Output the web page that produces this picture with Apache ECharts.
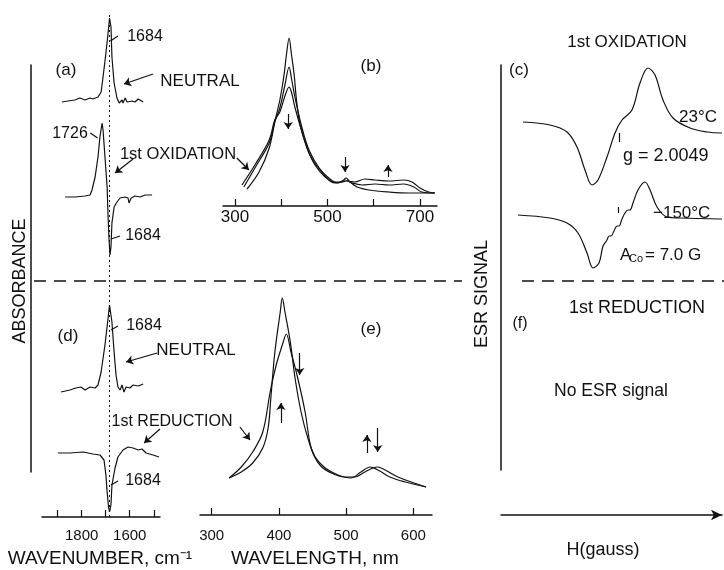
<!DOCTYPE html>
<html>
<head>
<meta charset="utf-8">
<title>IR / UV-vis / ESR of the 1st oxidation and reduction</title>
<script src="https://cdn.jsdelivr.net/npm/echarts@6/dist/echarts.min.js"></script>
<style>
  html, body { margin: 0; padding: 0; background: #fff; }
  #main { width: 724px; height: 570px; }
</style>
</head>
<body>
<div id="main"></div>
<script>
// (a)/(d) IR difference spectra, wavenumber (cm-1) vs absorbance (arb. units, traces offset)
var irTicks = [1900, 1800, 1700, 1600, 1500];
var irTickLabels = [1800, 1600];
var aNeutralWn = [1882, 1857, 1828, 1807, 1786, 1765, 1753, 1732, 1719, 1711, 1699, 1690, 1684, 1678, 1674, 1665, 1653, 1644, 1632, 1628, 1619, 1611, 1603, 1590, 1578, 1565, 1544];
var aNeutralAbs = [415, 416, 417, 419, 417, 419, 418, 420, 425, 440, 464, 484, 499, 490, 460, 434, 419, 414, 417, 414, 419, 415, 413, 416, 415, 418, 415];
var aOxWn = [1869, 1828, 1786, 1765, 1757, 1744, 1732, 1724, 1715, 1711, 1703, 1694, 1690, 1686, 1682, 1678, 1674, 1665, 1653, 1640, 1619, 1607, 1603, 1594, 1578, 1557, 1536, 1507];
var aOxAbs = [320, 320, 321, 322, 327, 340, 360, 380, 394, 387, 360, 330, 300, 277, 262, 270, 294, 310, 315, 319, 320, 319, 314, 319, 321, 320, 322, 322];
var dNeutralWn = [1886, 1849, 1824, 1803, 1786, 1765, 1744, 1732, 1719, 1703, 1690, 1684, 1674, 1665, 1657, 1649, 1640, 1632, 1624, 1615, 1599, 1586, 1565, 1544];
var dNeutralAbs = [125, 127, 129, 130, 127, 130, 129, 132, 145, 172, 199, 212, 195, 165, 142, 130, 127, 132, 125, 130, 129, 132, 131, 133];
var dRedWn = [1899, 1849, 1794, 1753, 1724, 1707, 1699, 1694, 1688, 1684, 1678, 1674, 1661, 1649, 1628, 1607, 1586, 1565, 1549, 1532, 1503, 1478];
var dRedAbs = [64, 64, 65, 63, 62, 57, 42, 25, 10, 5, 12, 32, 49, 60, 67, 70, 69, 67, 68, 64, 62, 60];

// (b) UV-vis, 1st oxidation (nm vs absorbance)
var bTicks = [300, 400, 500, 600, 700];
var bTickLabels = [300, 500, 700];
var bNeutralNm = [326, 352, 374, 386, 397, 406, 412, 417, 422, 428, 433, 441, 456, 473, 495, 516, 531, 540, 549, 564, 590, 633, 676, 719, 732];
var bNeutralAbs = [17, 34, 58, 84, 106, 131, 154, 168, 152, 131, 106, 81, 58, 41, 29, 23, 24, 28, 24, 19, 16, 14, 13, 13, 13];
var bMidNm = [319, 343, 374, 386, 397, 408, 417, 422, 430, 445, 460, 482, 503, 521, 538, 553, 575, 603, 633, 665, 687, 704, 732];
var bMidAbs = [19, 38, 63, 84, 98, 121, 139, 128, 108, 78, 56, 38, 28, 23, 26, 23, 21, 22, 21, 22, 19, 14, 13];
var bOxNm = [315, 343, 374, 386, 397, 408, 417, 422, 430, 445, 462, 488, 514, 531, 542, 559, 581, 603, 633, 665, 683, 700, 719, 732];
var bOxAbs = [21, 41, 66, 86, 94, 110, 119, 114, 98, 74, 51, 34, 24, 24, 25, 24, 27, 26, 25, 26, 24, 18, 14, 13];

// (e) UV-vis, 1st reduction
var eTicks = [300, 400, 500, 600];
var eRedNm = [326, 344, 361, 376, 384, 388, 394, 402, 405, 409, 417, 424, 433, 443, 454, 469, 488, 507, 522, 536, 550, 565, 588, 619];
var eRedAbs = [37, 43, 52, 67, 87, 117, 163, 203, 217, 203, 173, 137, 103, 77, 58, 47, 40, 37, 43, 48, 44, 38, 33, 28];
var eNeutralNm = [326, 344, 361, 376, 387, 396, 406, 411, 418, 428, 439, 448, 461, 478, 498, 513, 528, 540, 547, 558, 577, 619];
var eNeutralAbs = [37, 48, 63, 83, 123, 150, 172, 181, 163, 137, 103, 67, 50, 42, 38, 38, 43, 47, 48, 45, 38, 28];

// (c) ESR, field offset (G) vs signal
var esr23H = [22, 49, 66, 76, 84, 91, 97, 106, 114, 121, 131, 139, 147, 154, 162, 172, 189, 206, 221];
var esr23S = [348, 345, 338, 323, 300, 285, 290, 313, 337, 350, 360, 387, 402, 395, 370, 352, 342, 338, 337];
var esr150H = [17, 49, 66, 77, 86, 92, 98, 102, 106, 108, 110, 113, 116, 118, 121, 124, 127, 129, 132, 137, 144, 149, 156, 166, 179, 221];
var esr150S = [255, 252, 247, 237, 217, 202, 207, 224, 230, 234, 234, 239, 244, 244, 251, 257, 260, 260, 267, 280, 288, 280, 263, 253, 252, 251];

var black = '#111';
var ff = "'Liberation Sans', Arial, Helvetica, sans-serif";

function zip(xs, ys) {
  return xs.map(function (x, i) { return [x, ys[i]]; });
}

function trace(idx, xs, ys, smooth, extra) {
  var s = {
    type: 'line', xAxisIndex: idx, yAxisIndex: idx,
    data: zip(xs, ys), symbol: 'none', silent: true, animation: false,
    smooth: smooth,
    lineStyle: { color: black, width: 1.2 }
  };
  if (extra) s.markLine = extra;
  return s;
}

function arrow(x1, y1, x2, y2) {
  return [{ coord: [x1, y1], symbol: 'none' }, { coord: [x2, y2], symbol: 'arrow' }];
}
function stroke(x1, y1, x2, y2) {
  return [{ coord: [x1, y1], symbol: 'none' }, { coord: [x2, y2], symbol: 'none' }];
}
function marks(list) {
  return {
    silent: true, animation: false, symbolSize: 7,
    label: { show: false },
    lineStyle: { color: black, width: 1.2, type: 'solid' },
    data: list
  };
}

function specAxis(idx, min, max, ticks, labels, margin, size, inverse) {
  return {
    gridIndex: idx, type: 'value', min: min, max: max, inverse: !!inverse,
    axisLine: { show: true, onZero: false, lineStyle: { color: black, width: 1.5 } },
    axisTick: { show: true, inside: true, length: 7, customValues: ticks, lineStyle: { color: black, width: 1.2 } },
    axisLabel: {
      show: true, customValues: labels, margin: margin, fontSize: size, color: black, fontFamily: ff,
      formatter: function (v) { return String(v); }
    },
    splitLine: { show: false }
  };
}
function hiddenAxis(idx, min, max) {
  return { gridIndex: idx, type: 'value', min: min, max: max, show: false, splitLine: { show: false } };
}

function text(str, x, y, size, align, rot) {
  return {
    type: 'text', x: x, y: y, rotation: rot || 0, silent: true,
    style: {
      text: str, font: size + 'px ' + ff, fill: black,
      textAlign: align || 'center', textVerticalAlign: 'middle'
    }
  };
}

var chart = echarts.init(document.getElementById('main'), null, { renderer: 'canvas' });

var option = {
  backgroundColor: '#fff',
  animation: false,
  grid: [
    { left: 42, top: 12, width: 118, height: 505 },   // IR (a)+(d)
    { left: 223, top: 20, width: 214, height: 186 },  // (b)
    { left: 200, top: 285, width: 232, height: 230 }, // (e)
    { left: 501, top: 65, width: 221, height: 405 },  // ESR
    { left: 31, top: 65, width: 1, height: 407 }      // absorbance axis
  ],
  xAxis: [
    specAxis(0, 1474, 1965, irTicks, irTickLabels, 11, 15, true),
    specAxis(1, 274, 737, bTicks, bTickLabels, 3, 17),
    specAxis(2, 282.6, 627.8, eTicks, eTicks, 13, 15),
    {
      gridIndex: 3, type: 'value', min: 0, max: 221, offset: 45,
      axisLine: { show: true, onZero: false, symbol: ['none', 'arrow'], symbolSize: [8, 11], lineStyle: { color: black, width: 1.5 } },
      axisTick: { show: false }, axisLabel: { show: false }, splitLine: { show: false }
    },
    hiddenAxis(4, 0, 1)
  ],
  yAxis: [
    hiddenAxis(0, 0, 505),
    hiddenAxis(1, 0, 186),
    hiddenAxis(2, 0, 230),
    {
      gridIndex: 3, type: 'value', min: 0, max: 405,
      axisLine: { show: true, onZero: false, lineStyle: { color: black, width: 1.5 } },
      axisTick: { show: false }, axisLabel: { show: false }, splitLine: { show: false }
    },
    {
      gridIndex: 4, type: 'value', min: 0, max: 1,
      axisLine: { show: true, onZero: false, lineStyle: { color: black, width: 1.5 } },
      axisTick: { show: false }, axisLabel: { show: false }, splitLine: { show: false }
    }
  ],
  series: [
    trace(0, aNeutralWn, aNeutralAbs, false, marks([
      arrow(1503, 443, 1624, 433),
      arrow(1586, 358, 1661, 344),
      arrow(1486, 164, 1615, 155),
      arrow(1474, 88, 1540, 74),
      stroke(1649, 481, 1680, 476),
      stroke(1764, 384, 1734, 379),
      stroke(1640, 281, 1678, 278),
      stroke(1649, 191, 1678, 187),
      stroke(1649, 36, 1678, 32)
    ])),
    trace(0, aOxWn, aOxAbs, false, {
      silent: true, animation: false, symbol: 'none', label: { show: false },
      lineStyle: { color: black, width: 1, type: [2, 3] },
      data: [{ xAxis: 1684 }]
    }),
    trace(0, dNeutralWn, dNeutralAbs, false),
    trace(0, dRedWn, dRedAbs, false),

    trace(1, bNeutralNm, bNeutralAbs, 0.35, marks([
      arrow(415, 92, 415, 77),
      arrow(538, 49, 538, 34),
      arrow(631, 29, 631, 41),
      arrow(304, 48, 330, 36)
    ])),
    trace(1, bMidNm, bMidAbs, 0.35),
    trace(1, bOxNm, bOxAbs, 0.35),

    trace(2, eRedNm, eRedAbs, 0.35, marks([
      arrow(431, 162, 431, 140),
      arrow(403, 92, 403, 112),
      arrow(531, 62, 531, 80),
      arrow(547, 87, 547, 63),
      arrow(342, 88, 357, 75)
    ])),
    trace(2, eNeutralNm, eNeutralAbs, 0.35),

    trace(3, esr23H, esr23S, 0.35, marks([
      stroke(118, 337, 118, 328),
      stroke(117, 263, 117, 257)
    ])),
    trace(3, esr150H, esr150S, 0.35)
  ],
  graphic: [
    { type: 'line', silent: true, shape: { x1: 34, y1: 281, x2: 462, y2: 281 }, style: { stroke: black, lineWidth: 1.5, lineDash: [12, 8] } },
    { type: 'line', silent: true, shape: { x1: 522, y1: 281, x2: 724, y2: 281 }, style: { stroke: black, lineWidth: 1.5, lineDash: [12, 8] } },

    text('ABSORBANCE', 20, 281, 18, 'center', Math.PI / 2),
    text('ESR SIGNAL', 482, 294, 18, 'center', Math.PI / 2),

    text('(a)', 66, 70, 17),
    text('1684', 145, 37, 16),
    text('NEUTRAL', 200, 81, 17),
    text('1726', 70, 134, 16),
    text('1st OXIDATION', 178, 154, 16.5),
    text('1684', 143, 236, 16),
    text('(b)', 371, 66, 17),

    text('(d)', 68, 336, 17),
    text('1684', 144, 326, 16),
    text('NEUTRAL', 196, 350, 17),
    text('1st REDUCTION', 172, 422, 16),
    text('1684', 143, 481, 16),
    text('(e)', 371, 329, 17),

    text('WAVENUMBER, cm\u207B\u00B9', 100, 559, 19),
    text('WAVELENGTH, nm', 315, 559, 19),

    text('1st OXIDATION', 627, 42, 17),
    text('(c)', 519, 70, 17),
    text('23\u00B0C', 679, 117, 17, 'left'),
    text('g = 2.0049', 623, 156, 18, 'left'),
    text('\u2212150\u00B0C', 653, 213, 17, 'left'),
    text('A', 620, 255, 17, 'left'),
    text('Co', 629, 259, 11, 'left'),
    text('= 7.0 G', 645, 255, 17, 'left'),

    text('1st REDUCTION', 637, 308, 18),
    text('(f)', 520, 324, 16),
    text('No ESR signal', 611, 391, 17.5),
    text('H(gauss)', 603, 550, 18)
  ]
};

chart.setOption(option);
</script>
</body>
</html>
